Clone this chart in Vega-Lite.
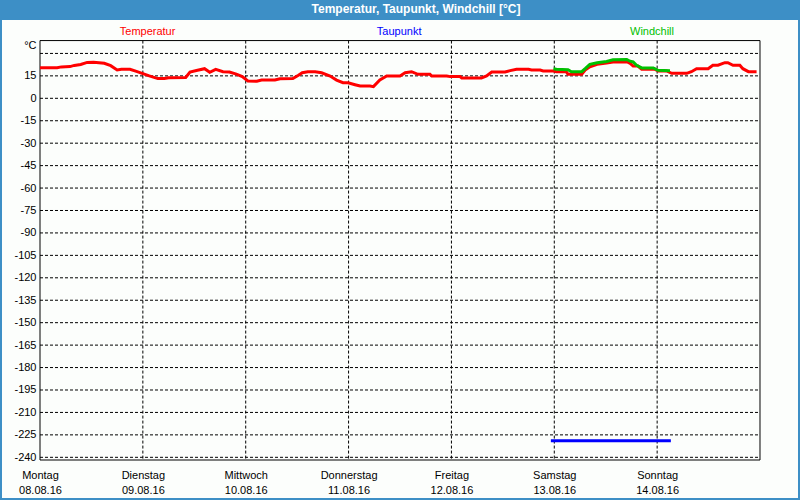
{
  "$schema": "https://vega.github.io/schema/vega-lite/v6.json",
  "width": 796,
  "height": 478,
  "autosize": "none",
  "padding": {"left": 2, "right": 2, "top": 20, "bottom": 2},
  "background": "#3d8fc6",
  "config": {
    "view": {"fill": "#fcfefc", "stroke": null},
    "font": "Liberation Sans",
    "axis": {"labelFont": "Liberation Sans", "labelFontSize": 11, "labelColor": "#000000", "grid": false, "domain": false, "ticks": false, "title": null, "labelOverlap": false}
  },
  "title": {
    "text": "Temperatur, Taupunkt, Windchill [°C]",
    "color": "#ffffff",
    "font": "Liberation Sans",
    "fontSize": 12,
    "fontWeight": "bold",
    "anchor": "middle",
    "offset": 4,
    "dx": 16
  },
  "datasets": {
    "hgrid": [{"v":30},{"v":15},{"v":0},{"v":-15},{"v":-30},{"v":-45},{"v":-60},{"v":-75},{"v":-90},{"v":-105},{"v":-120},{"v":-135},{"v":-150},{"v":-165},{"v":-180},{"v":-195},{"v":-210},{"v":-225},{"v":-240}],
    "vgrid": [{"h":24},{"h":48},{"h":72},{"h":96},{"h":120},{"h":144}],
    "series": [
      {"h":0,"v":20.4,"s":"Temperatur"},{"h":4,"v":20.4,"s":"Temperatur"},{"h":5,"v":21.0,"s":"Temperatur"},{"h":7,"v":21.2,"s":"Temperatur"},{"h":8,"v":22.0,"s":"Temperatur"},{"h":9.5,"v":22.6,"s":"Temperatur"},{"h":11,"v":24.0,"s":"Temperatur"},{"h":12.5,"v":24.1,"s":"Temperatur"},{"h":15,"v":23.4,"s":"Temperatur"},{"h":16.5,"v":21.8,"s":"Temperatur"},{"h":18,"v":19.0,"s":"Temperatur"},{"h":19,"v":19.4,"s":"Temperatur"},{"h":21,"v":19.4,"s":"Temperatur"},{"h":22.5,"v":18.0,"s":"Temperatur"},{"h":24,"v":16.5,"s":"Temperatur"},{"h":25.5,"v":15.0,"s":"Temperatur"},{"h":27.5,"v":13.2,"s":"Temperatur"},{"h":29,"v":13.2,"s":"Temperatur"},{"h":30,"v":13.8,"s":"Temperatur"},{"h":34,"v":13.9,"s":"Temperatur"},{"h":35,"v":17.5,"s":"Temperatur"},{"h":36.5,"v":18.6,"s":"Temperatur"},{"h":38.4,"v":19.8,"s":"Temperatur"},{"h":39.6,"v":17.4,"s":"Temperatur"},{"h":41,"v":19.4,"s":"Temperatur"},{"h":42.7,"v":17.8,"s":"Temperatur"},{"h":44.2,"v":17.6,"s":"Temperatur"},{"h":45.8,"v":16.2,"s":"Temperatur"},{"h":47.2,"v":14.5,"s":"Temperatur"},{"h":48.5,"v":11.6,"s":"Temperatur"},{"h":50.6,"v":11.4,"s":"Temperatur"},{"h":51.7,"v":12.2,"s":"Temperatur"},{"h":54.8,"v":12.2,"s":"Temperatur"},{"h":56,"v":13.1,"s":"Temperatur"},{"h":59,"v":13.2,"s":"Temperatur"},{"h":60.3,"v":15.4,"s":"Temperatur"},{"h":61.2,"v":17.1,"s":"Temperatur"},{"h":62.5,"v":17.8,"s":"Temperatur"},{"h":64.2,"v":17.8,"s":"Temperatur"},{"h":65.7,"v":17.1,"s":"Temperatur"},{"h":67.7,"v":14.9,"s":"Temperatur"},{"h":69.2,"v":12.2,"s":"Temperatur"},{"h":70.7,"v":10.4,"s":"Temperatur"},{"h":71.9,"v":10.4,"s":"Temperatur"},{"h":73.5,"v":9.1,"s":"Temperatur"},{"h":74.7,"v":8.2,"s":"Temperatur"},{"h":77,"v":8.2,"s":"Temperatur"},{"h":77.8,"v":7.8,"s":"Temperatur"},{"h":79.3,"v":12.2,"s":"Temperatur"},{"h":80.9,"v":14.9,"s":"Temperatur"},{"h":84,"v":14.9,"s":"Temperatur"},{"h":85.2,"v":17.1,"s":"Temperatur"},{"h":86.7,"v":17.8,"s":"Temperatur"},{"h":88.2,"v":16.0,"s":"Temperatur"},{"h":91,"v":16.0,"s":"Temperatur"},{"h":91.4,"v":14.9,"s":"Temperatur"},{"h":94.9,"v":14.9,"s":"Temperatur"},{"h":95.7,"v":14.5,"s":"Temperatur"},{"h":98,"v":14.5,"s":"Temperatur"},{"h":98.4,"v":13.6,"s":"Temperatur"},{"h":103,"v":13.6,"s":"Temperatur"},{"h":104.2,"v":14.9,"s":"Temperatur"},{"h":105.4,"v":17.6,"s":"Temperatur"},{"h":108.5,"v":17.6,"s":"Temperatur"},{"h":109.7,"v":18.5,"s":"Temperatur"},{"h":111.2,"v":19.4,"s":"Temperatur"},{"h":114,"v":19.4,"s":"Temperatur"},{"h":114.7,"v":18.9,"s":"Temperatur"},{"h":116.7,"v":18.9,"s":"Temperatur"},{"h":117.4,"v":18.3,"s":"Temperatur"},{"h":119.8,"v":18.3,"s":"Temperatur"},{"h":120.5,"v":17.8,"s":"Temperatur"},{"h":122.8,"v":17.8,"s":"Temperatur"},{"h":123.2,"v":16.0,"s":"Temperatur"},{"h":126.4,"v":16.0,"s":"Temperatur"},{"h":127.2,"v":18.9,"s":"Temperatur"},{"h":128.3,"v":21.1,"s":"Temperatur"},{"h":130,"v":22.7,"s":"Temperatur"},{"h":132.2,"v":23.6,"s":"Temperatur"},{"h":133.7,"v":24.3,"s":"Temperatur"},{"h":136.9,"v":24.5,"s":"Temperatur"},{"h":137.7,"v":23.4,"s":"Temperatur"},{"h":138.4,"v":21.6,"s":"Temperatur"},{"h":139.5,"v":21.6,"s":"Temperatur"},{"h":140.4,"v":19.4,"s":"Temperatur"},{"h":143.5,"v":19.4,"s":"Temperatur"},{"h":144.3,"v":18.3,"s":"Temperatur"},{"h":146.2,"v":18.3,"s":"Temperatur"},{"h":147.4,"v":16.7,"s":"Temperatur"},{"h":150.9,"v":16.7,"s":"Temperatur"},{"h":152,"v":17.8,"s":"Temperatur"},{"h":153.2,"v":19.8,"s":"Temperatur"},{"h":155.9,"v":19.8,"s":"Temperatur"},{"h":157,"v":22.1,"s":"Temperatur"},{"h":158.2,"v":22.1,"s":"Temperatur"},{"h":159.8,"v":23.8,"s":"Temperatur"},{"h":160.5,"v":23.8,"s":"Temperatur"},{"h":161.7,"v":22.1,"s":"Temperatur"},{"h":163.3,"v":22.1,"s":"Temperatur"},{"h":164,"v":19.8,"s":"Temperatur"},{"h":165.3,"v":17.8,"s":"Temperatur"},{"h":167.2,"v":17.8,"s":"Temperatur"},
      {"h":119.2,"v":-229,"s":"Taupunkt"},{"h":126,"v":-229,"s":"Taupunkt"},{"h":133,"v":-229,"s":"Taupunkt"},{"h":140,"v":-229,"s":"Taupunkt"},{"h":147.2,"v":-229,"s":"Taupunkt"},
      {"h":119.8,"v":19.8,"s":"Windchill"},{"h":120.5,"v":19.4,"s":"Windchill"},{"h":123.2,"v":19.1,"s":"Windchill"},{"h":124,"v":17.8,"s":"Windchill"},{"h":126.4,"v":17.8,"s":"Windchill"},{"h":127.2,"v":19.8,"s":"Windchill"},{"h":128.3,"v":22.7,"s":"Windchill"},{"h":130,"v":23.8,"s":"Windchill"},{"h":132.2,"v":24.6,"s":"Windchill"},{"h":133.7,"v":25.8,"s":"Windchill"},{"h":136.9,"v":26.0,"s":"Windchill"},{"h":137.7,"v":24.8,"s":"Windchill"},{"h":138.4,"v":24.3,"s":"Windchill"},{"h":139.2,"v":22.1,"s":"Windchill"},{"h":140.4,"v":20.3,"s":"Windchill"},{"h":143.1,"v":20.3,"s":"Windchill"},{"h":144.2,"v":18.7,"s":"Windchill"},{"h":147,"v":18.5,"s":"Windchill"}
    ]
  },
  "layer": [
    {
      "data": {"name": "hgrid"},
      "mark": {"type": "rule", "color": "#000000", "strokeWidth": 1, "strokeDash": [3, 2]},
      "encoding": {
        "y": {"field": "v", "type": "quantitative", "scale": {"domain": [-267.2, 52.35], "nice": false, "zero": false},
          "axis": {"orient": "left", "offset": -38, "labelPadding": 4, "tickCount": 40, "values": [35, 15, 0, -15, -30, -45, -60, -75, -90, -105, -120, -135, -150, -165, -180, -195, -210, -225, -240], "labelExpr": "datum.value == 35 ? '°C' : '' + datum.value", "labelOverlap": false}},
        "x": {"datum": 0, "type": "quantitative", "scale": {"domain": [-8.867, 176.867], "nice": false, "zero": false},
          "axis": {"orient": "bottom", "offset": -38, "labelPadding": 9, "tickCount": 40, "values": [0, 24, 48, 72, 96, 120, 144], "labelFlush": false, "labelOverlap": false, "labelBound": false, "labelLineHeight": 15, "labelBaseline": "top",
            "labelExpr": "[['Montag','Dienstag','Mittwoch','Donnerstag','Freitag','Samstag','Sonntag'][datum.value/24], ['08.08.16','09.08.16','10.08.16','11.08.16','12.08.16','13.08.16','14.08.16'][datum.value/24]]"}},
        "x2": {"datum": 168}
      }
    },
    {
      "data": {"name": "vgrid"},
      "mark": {"type": "rule", "color": "#000000", "strokeWidth": 1, "strokeDash": [3, 2]},
      "encoding": {
        "x": {"field": "h", "type": "quantitative"},
        "y": {"datum": 38.6, "type": "quantitative"},
        "y2": {"datum": -241.8}
      }
    },
    {
      "data": {"values": [{}]},
      "mark": {"type": "rect", "filled": false, "stroke": "#000000", "strokeWidth": 1},
      "encoding": {
        "x": {"datum": 0, "type": "quantitative"},
        "x2": {"datum": 168},
        "y": {"datum": 38.6, "type": "quantitative"},
        "y2": {"datum": -241.8}
      }
    },
    {
      "data": {"name": "series"},
      "mark": {"type": "line", "strokeWidth": 3},
      "encoding": {
        "x": {"field": "h", "type": "quantitative"},
        "y": {"field": "v", "type": "quantitative"},
        "color": {"field": "s", "type": "nominal", "legend": null,
          "scale": {"domain": ["Temperatur", "Taupunkt", "Windchill"], "range": ["#ff0000", "#0000ff", "#00c000"]}},
        "order": {"field": "h"}
      }
    },
    {
      "data": {"values": [{"label": "Temperatur"}]},
      "mark": {"type": "text", "fontSize": 11, "font": "Liberation Sans", "baseline": "middle", "align": "center"},
      "encoding": {"text": {"field": "label"}, "x": {"datum": 25.1, "type": "quantitative"}, "y": {"datum": 44.3, "type": "quantitative"},
        "color": {"field": "label", "type": "nominal", "legend": null}}
    },
    {
      "data": {"values": [{"label": "Taupunkt"}]},
      "mark": {"type": "text", "fontSize": 11, "font": "Liberation Sans", "baseline": "middle", "align": "center"},
      "encoding": {"text": {"field": "label"}, "x": {"datum": 83.8, "type": "quantitative"}, "y": {"datum": 44.3, "type": "quantitative"},
        "color": {"field": "label", "type": "nominal", "legend": null}}
    },
    {
      "data": {"values": [{"label": "Windchill"}]},
      "mark": {"type": "text", "fontSize": 11, "font": "Liberation Sans", "baseline": "middle", "align": "center"},
      "encoding": {"text": {"field": "label"}, "x": {"datum": 142.8, "type": "quantitative"}, "y": {"datum": 44.3, "type": "quantitative"},
        "color": {"field": "label", "type": "nominal", "legend": null}}
    }
  ]
}
